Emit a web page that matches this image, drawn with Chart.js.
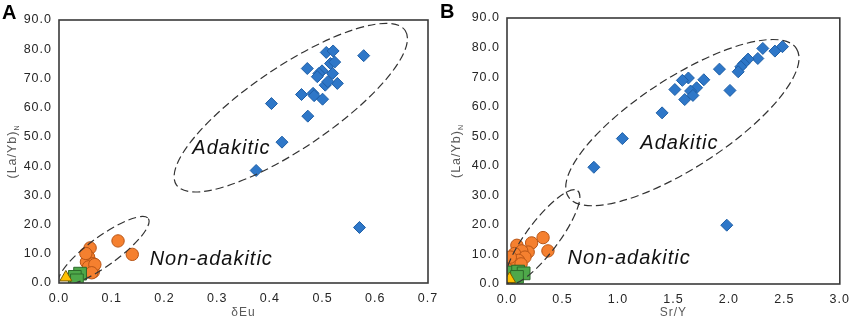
<!DOCTYPE html>
<html><head><meta charset="utf-8">
<script src="https://cdn.jsdelivr.net/npm/chart.js@4"></script>
<style>
html,body{margin:0;padding:0;background:#fff;}
#wrap{position:relative;width:858px;height:322px;overflow:hidden;background:#fff;}
#cA{position:absolute;left:0;top:0;}
#cB{position:absolute;left:430px;top:0;}
</style></head><body>
<div id="wrap">
<canvas id="cB" width="428" height="322"></canvas>
<canvas id="cA" width="450" height="322"></canvas>
</div>
<script>
// ---------- Panel A : δEu vs (La/Yb)N ----------
const xTicksA = [0, 0.1, 0.2, 0.3, 0.4, 0.5, 0.6, 0.7];
const yTicks = [0, 10, 20, 30, 40, 50, 60, 70, 80, 90];
const xTicksB = [0, 0.5, 1.0, 1.5, 2.0, 2.5, 3.0];

const dEu_adakitic = [0.507, 0.520, 0.578, 0.515, 0.523, 0.471, 0.499, 0.493, 0.519, 0.490, 0.528, 0.505, 0.510, 0.460, 0.482, 0.484, 0.500, 0.403, 0.472, 0.423, 0.374, 0.570];
const laYbA_adakitic = [78.9, 79.4, 77.8, 75.1, 75.6, 73.4, 72.6, 71.7, 71.7, 70.6, 68.3, 67.7, 68.9, 64.5, 64.9, 64.1, 62.9, 61.4, 57.1, 48.2, 38.5, 19.0];
const dEu_non = [0.112, 0.139, 0.059, 0.056, 0.052, 0.065, 0.056, 0.065, 0.051, 0.068, 0.062];
const laYbA_non = [14.4, 9.8, 12.0, 8.9, 7.2, 6.6, 5.5, 3.8, 10.1, 6.3, 3.5];
const dEu_green = [0.040, 0.030, 0.034];
const laYbA_green = [3.2, 2.1, 0.9];
const dEu_yellow = [0.013];
const laYbA_yellow = [1.9];

// ---------- Panel B : Sr/Y vs (La/Yb)N ----------
const srY_adakitic = [2.483, 2.415, 2.306, 2.261, 2.173, 2.134, 2.108, 2.084, 1.915, 2.010, 1.774, 1.635, 1.581, 1.513, 1.709, 1.655, 1.676, 1.602, 1.398, 1.040, 0.783, 1.981];
const laYbB_adakitic = [80.3, 78.8, 79.7, 76.3, 76.1, 74.6, 73.5, 71.8, 72.7, 65.5, 69.1, 69.7, 68.9, 65.8, 66.4, 65.3, 63.8, 62.4, 57.9, 49.2, 39.5, 19.9];
const srY_non = [0.325, 0.222, 0.369, 0.089, 0.191, 0.133, 0.068, 0.162, 0.103, 0.044, 0.127, 0.030, 0.005];
const laYbB_non = [15.7, 13.9, 11.2, 13.1, 10.8, 11.2, 10.3, 9.1, 8.0, 7.4, 6.8, 9.1, 4.9];
const srY_green = [0.06, 0.10, 0.15, 0.09];
const laYbB_green = [3.9, 4.2, 3.6, 2.4];
const srY_yellow = [0.023];
const laYbB_yellow = [1.7];

// annotation ellipses: centre in data units, semi-axes in px, tilt in degrees
const ellipsesA = [
  {cx: 0.4397, cy: 60.0, a: 138, b: 41, tilt: 34},
  {cx: 0.085, cy: 11.0, a: 55, b: 14.5, tilt: 36}
];
const ellipsesB = [
  {cx: 1.581, cy: 54.6, a: 136, b: 45, tilt: 33},
  {cx: 0.322, cy: 15.9, a: 58, b: 16, tilt: 53}
];
const labelsA = [{text: 'Adakitic', x: 0.253, y: 44.3}, {text: 'Non-adakitic', x: 0.172, y: 6.3}];
const labelsB = [{text: 'Adakitic', x: 1.202, y: 45.6}, {text: 'Non-adakitic', x: 0.546, y: 6.7}];

const pts = (xs, ys) => xs.map((v, i) => ({x: v, y: ys[i]}));
const FONT = "'Liberation Sans', Arial, sans-serif";

function datasets(xa, ya, xn, yn, xg, yg, xy, yy) {
  return [
    {label: 'yellow', data: pts(xy, yy), pointStyle: 'triangle', pointRadius: 7, backgroundColor: '#FFC000', borderColor: '#7a5c00', borderWidth: 1},
    {label: 'green', data: pts(xg, yg), pointStyle: 'rect', pointRadius: 9, backgroundColor: '#4EA84A', borderColor: '#2d6a2a', borderWidth: 1},
    {label: 'non', data: pts(xn, yn), pointStyle: 'circle', pointRadius: 6.2, backgroundColor: '#F5802F', borderColor: '#b85516', borderWidth: 1},
    {label: 'adakitic', data: pts(xa, ya), pointStyle: 'rectRot', pointRadius: 6, backgroundColor: '#2E77C8', borderColor: '#1f5fa6', borderWidth: 1}
  ];
}

const decor = {
  id: 'decor',
  beforeLayout(chart) { chart.ctx.letterSpacing = '1px'; },
  beforeDraw(chart) { chart.ctx.letterSpacing = '1px'; },
  afterDatasetsDraw(chart) {
    const o = chart.options.plugins.decor;
    const {ctx, chartArea: ca, scales: {x, y}} = chart;
    ctx.save();
    ctx.beginPath(); ctx.rect(ca.left, ca.top, ca.right - ca.left, ca.bottom - ca.top); ctx.clip();
    ctx.setLineDash([8, 4]); ctx.lineWidth = 1.2; ctx.strokeStyle = '#333';
    o.ellipses.forEach(e => {
      ctx.beginPath();
      ctx.ellipse(x.getPixelForValue(e.cx), y.getPixelForValue(e.cy), e.a, e.b, -e.tilt * Math.PI / 180, 0, 2 * Math.PI);
      ctx.stroke();
    });
    ctx.restore();
    ctx.save();
    ctx.letterSpacing = '1px';
    ctx.fillStyle = '#111';
    ctx.font = 'italic 20px ' + FONT;
    ctx.textAlign = 'left'; ctx.textBaseline = 'alphabetic';
    o.labels.forEach(l => ctx.fillText(l.text, x.getPixelForValue(l.x), y.getPixelForValue(l.y)));
    ctx.restore();
  },
  afterDraw(chart) {
    const o = chart.options.plugins.decor;
    const {ctx, chartArea: ca} = chart;
    ctx.save();
    ctx.setLineDash([]);
    ctx.strokeStyle = '#3a3a3a'; ctx.lineWidth = 1.6;
    ctx.strokeRect(ca.left, ca.top, ca.right - ca.left, ca.bottom - ca.top);
    // y title with subscript
    ctx.letterSpacing = '1px';
    ctx.fillStyle = '#595959';
    ctx.translate(ca.left - o.yTitleOffset, (ca.top + ca.bottom) / 2);
    ctx.rotate(-Math.PI / 2);
    ctx.font = '12.5px ' + FONT;
    const main = '(La/Yb)';
    const w1 = ctx.measureText(main).width;
    ctx.font = '7px ' + FONT;
    const w2 = ctx.measureText('N').width;
    const x0 = -(w1 + w2) / 2;
    ctx.textBaseline = 'middle'; ctx.textAlign = 'left';
    ctx.font = '12.5px ' + FONT;
    ctx.fillText(main, x0, 0);
    ctx.font = '7px ' + FONT;
    ctx.fillText('N', x0 + w1, 4);
    ctx.restore();
    ctx.save();
    ctx.fillStyle = '#000';
    ctx.font = 'bold 20px ' + FONT;
    ctx.textAlign = 'left'; ctx.textBaseline = 'alphabetic';
    ctx.fillText(o.panel, o.panelX, o.panelY);
    ctx.restore();
  }
};

function makeChart(id, ds, xTicks, xMax, xTitle, pad, yWidth, xHeight, deco) {
  return new Chart(document.getElementById(id), {
    type: 'scatter',
    data: {datasets: ds},
    plugins: [decor],
    options: {
      responsive: false, animation: false,
      layout: {padding: pad},
      plugins: {legend: {display: false}, tooltip: {enabled: false}, decor: deco},
      scales: {
        x: {
          type: 'linear', min: 0, max: xMax,
          afterBuildTicks: s => { s.ticks = xTicks.map(v => ({value: v})); },
          afterFit: s => { s.height = xHeight; },
          grid: {display: false, drawTicks: false}, border: {display: false},
          ticks: {callback: v => Number(v).toFixed(1), padding: 8, color: '#262626', maxRotation: 0, autoSkip: false, font: {size: 12.5, family: FONT}},
          title: {display: true, text: xTitle, color: '#595959', font: {size: 12, family: FONT}, padding: {top: 0, bottom: 2}}
        },
        y: {
          type: 'linear', min: 0, max: 90,
          afterBuildTicks: s => { s.ticks = yTicks.map(v => ({value: v})); },
          afterFit: s => { s.width = yWidth; },
          grid: {display: false, drawTicks: false}, border: {display: false},
          ticks: {callback: v => Number(v).toFixed(1), padding: 7, color: '#262626', autoSkip: false, font: {size: 12.5, family: FONT}}
        }
      }
    }
  });
}

makeChart('cA', datasets(dEu_adakitic, laYbA_adakitic, dEu_non, laYbA_non, dEu_green, laYbA_green, dEu_yellow, laYbA_yellow),
  xTicksA, 0.7, 'δEu', {left: 0, right: 22, top: 20, bottom: 0}, 59, 39,
  {ellipses: ellipsesA, labels: labelsA, yTitleOffset: 46, panel: 'A', panelX: 2, panelY: 19});
makeChart('cB', datasets(srY_adakitic, laYbB_adakitic, srY_non, laYbB_non, srY_green, laYbB_green, srY_yellow, laYbB_yellow),
  xTicksB, 3.0, 'Sr/Y', {left: 0, right: 13, top: 18, bottom: 0}, 77, 38,
  {ellipses: ellipsesB, labels: labelsB, yTitleOffset: 50, panel: 'B', panelX: 10, panelY: 18});
</script>
</body></html>
